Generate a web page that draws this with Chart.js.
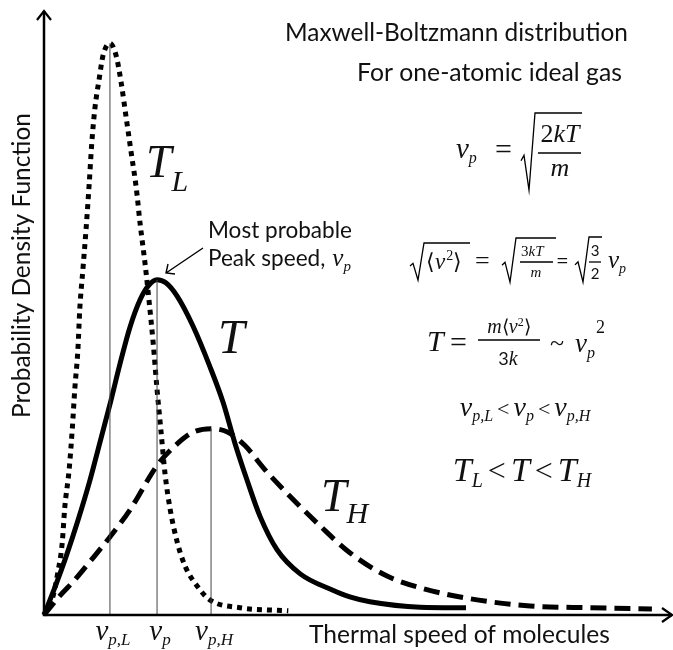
<!DOCTYPE html>
<html><head><meta charset="utf-8">
<script src="https://cdn.jsdelivr.net/npm/chart.js@4.4.1/dist/chart.umd.min.js"></script>
<style>html,body{margin:0;padding:0;background:#fff}#wrap{width:673px;height:650px}</style>
</head><body><div id="wrap"><canvas id="c" width="673" height="650"></canvas></div>
<script>
// ---- data (arbitrary units) ----
const speedLow    = [0,1.3,2.2,2.9,3.3,4.0,4.5,4.9,5.4,5.7,6.2,6.7,7.2,7.6,8.1,8.8,9.4,10.5,11.5,12.3,13.1,13.9,14.7,15.3,16.1,16.7,17.4,18.0,18.6,19.3,20.1,21.2,22.5,24.6,26.4,31.2,38.9];
const densityLow  = [0,2.6,7.0,11.9,17.7,24.0,30.7,37.3,43.9,50.6,57.2,63.8,71.3,77.9,83.7,88.7,92.5,94.5,92.4,87.9,82.1,76.3,70.5,64.7,58.0,52.2,44.8,37.3,30.7,23.1,17.4,12.1,8.0,4.5,2.5,1.2,0.7];
const speedMid    = [0,1.75,3.5,5.4,7.3,8.9,10.5,12.1,13.7,15.3,16.6,18.0,19.4,21.2,23.7,26.4,28.5,30.4,32.3,34.4,37.1,40.8,46.0,48.7,51.9,59.9,67.2];
const densityMid  = [0,4.6,9.6,15.6,22.2,28.5,34.8,41.5,47.6,52.1,54.4,55.4,54.9,52.7,47.8,41.1,35.2,28.4,22.4,16.3,10.8,6.8,4.1,3.0,2.2,1.3,1.2];
const speedHigh   = [0,2.55,4.9,7.3,10.5,13.7,18.0,20.9,23.7,26.6,29.3,32.0,35.2,39.2,43.9,48.7,54.3,59.9,67.8,77.4,86.9,96.8];
const densityHigh = [0,3.2,5.8,8.8,12.9,17.4,24.7,28.0,30.2,30.8,30.2,28.0,24.0,19.6,14.8,10.3,6.6,4.5,2.7,1.5,1.2,1.0];
const peakSpeeds    = [10.5, 18.0, 26.6];
const peakDensities = [94.5, 55.4, 30.8];
const tickMain = ['v', 'v', 'v'];
const tickSubs = ['p,L', 'p', 'p,H'];
const xTitle = 'Thermal speed of molecules';
const yTitle = 'Probability Density Function';

const pts = (xs, ys) => xs.map((x, i) => ({x, y: ys[i]}));

const SANS = s => `${s}px Lato, "Open Sans", sans-serif`;
const MI = s => `italic ${s}px "Liberation Serif", serif`;
const MR = s => `${s}px "Liberation Serif", serif`;

function seqWidth(ctx, items) {
  let w = 0;
  for (const it of items) { ctx.font = it.f; w += ctx.measureText(it.t).width + (it.g || 0); }
  return w;
}
function seqDraw(ctx, x, y, items) {
  for (const it of items) {
    ctx.font = it.f;
    ctx.fillText(it.t, x, y + (it.dy || 0));
    x += ctx.measureText(it.t).width + (it.g || 0);
  }
  return x;
}
function seqCenter(ctx, cx, y, items) { seqDraw(ctx, cx - seqWidth(ctx, items) / 2, y, items); }
function fitText(ctx, txt, left, right, base, size, fam) {
  ctx.font = fam(size);
  const w = ctx.measureText(txt).width;
  const s = size * (right - left) / w;
  ctx.font = fam(s);
  ctx.fillText(txt, left, base);
  return s;
}
function radical(ctx, x, yTop, yBot, endX) {
  ctx.beginPath();
  const h = yBot - yTop;
  ctx.moveTo(x, yTop + h * 0.62);
  ctx.lineTo(x + 3, yTop + h * 0.55);
  ctx.lineTo(x + 8, yBot);
  ctx.lineTo(x + 14, yTop);
  ctx.lineTo(endX, yTop);
  ctx.stroke();
}

const annot = {
  id: 'annot',
  afterDatasetsDraw(chart) {
    const ctx = chart.ctx, a = chart.chartArea;
    const xs = chart.scales.x;
    ctx.save();
    ctx.fillStyle = '#111'; ctx.strokeStyle = '#000';
    ctx.textBaseline = 'alphabetic'; ctx.textAlign = 'left';
    // axes with arrows
    ctx.lineWidth = 2.5;
    ctx.beginPath();
    ctx.moveTo(a.left, a.top + 1); ctx.lineTo(a.left, a.bottom); ctx.lineTo(a.right, a.bottom);
    ctx.stroke();
    ctx.lineWidth = 2.2;
    ctx.beginPath();
    ctx.moveTo(a.left - 7, a.top + 10); ctx.lineTo(a.left, a.top + 1); ctx.lineTo(a.left + 7, a.top + 10);
    ctx.moveTo(a.right - 10, a.bottom - 7); ctx.lineTo(a.right, a.bottom); ctx.lineTo(a.right - 10, a.bottom + 7);
    ctx.stroke();

    // tick labels
    for (let i = 0; i < peakSpeeds.length; i++) {
      const px = xs.getPixelForValue(peakSpeeds[i]);
      seqCenter(ctx, px + 3, 640, [{t: tickMain[i], f: MI(29)}, {t: tickSubs[i], f: MI(17), dy: 5}]);
    }
    // axis titles
    fitText(ctx, xTitle, 309, 610, 643, 22, SANS);
    ctx.save();
    ctx.translate(30, 418); ctx.rotate(-Math.PI / 2);
    fitText(ctx, yTitle, 0, 305, 0, 22, SANS);
    ctx.restore();

    // titles
    fitText(ctx, 'Maxwell-Boltzmann distribution', 285, 628, 41, 21, SANS);
    fitText(ctx, 'For one-atomic ideal gas', 357, 622, 81, 21, SANS);
    const fs = fitText(ctx, 'Most probable', 208, 352, 238, 17, SANS);
    ctx.font = SANS(fs);
    ctx.fillText('Peak speed,', 208, 266);
    const pw = ctx.measureText('Peak speed,').width;
    seqDraw(ctx, 208 + pw + 7, 266, [{t: 'v', f: MI(25)}, {t: 'p', f: MI(15), dy: 5}]);
    // arrow
    ctx.lineWidth = 1.4;
    ctx.beginPath();
    ctx.moveTo(203, 248); ctx.lineTo(166, 273);
    ctx.moveTo(168, 264); ctx.lineTo(166, 273); ctx.lineTo(175, 274);
    ctx.stroke();

    // curve labels
    seqDraw(ctx, 146, 177, [{t: 'T', f: MI(46)}, {t: 'L', f: MI(30), dy: 14}]);
    seqDraw(ctx, 218, 353, [{t: 'T', f: MI(48)}]);
    seqDraw(ctx, 321, 511, [{t: 'T', f: MI(46)}, {t: 'H', f: MI(30), dy: 12}]);

    // formula 1
    ctx.lineWidth = 1.3;
    seqDraw(ctx, 456, 158, [{t: 'v', f: MI(29)}, {t: 'p', f: MI(16), dy: 5}]);
    ctx.font = MR(30); ctx.fillText('=', 495, 159);
    radical(ctx, 521, 113, 190, 582);
    seqCenter(ctx, 560, 142, [{t: '2', f: MR(26)}, {t: 'kT', f: MI(26)}]);
    ctx.beginPath(); ctx.moveTo(538, 153); ctx.lineTo(581, 153); ctx.stroke();
    seqCenter(ctx, 560, 176, [{t: 'm', f: MI(26)}]);

    // formula 2
    radical(ctx, 410, 243, 280, 470);
    seqDraw(ctx, 426, 269, [{t: '\u27E8', f: MR(22)}, {t: 'v', f: MI(23), g: 1}, {t: '2', f: MR(14), dy: -9}, {t: '\u27E9', f: MR(22)}]);
    ctx.font = MR(26); ctx.fillText('=', 475, 269);
    radical(ctx, 502, 238, 282, 556);
    seqDraw(ctx, 521, 256, [{t: '3', f: MR(15)}, {t: 'kT', f: MI(15)}]);
    ctx.beginPath(); ctx.moveTo(520, 262); ctx.lineTo(553, 262); ctx.stroke();
    seqCenter(ctx, 536, 277, [{t: 'm', f: MI(15)}]);
    ctx.font = SANS(22); ctx.fillText('=', 556, 268);
    radical(ctx, 575, 237, 282, 602);
    seqCenter(ctx, 595, 256, [{t: '3', f: SANS(15)}]);
    seqCenter(ctx, 595, 279, [{t: '2', f: SANS(15)}]);
    ctx.beginPath(); ctx.moveTo(589, 262); ctx.lineTo(601, 262); ctx.stroke();
    seqDraw(ctx, 608, 268, [{t: 'v', f: MI(25)}, {t: 'p', f: MI(14), dy: 5}]);

    // formula 3
    seqDraw(ctx, 427, 351, [{t: 'T', f: MI(30)}]);
    ctx.font = MR(30); ctx.fillText('=', 450, 352);
    seqCenter(ctx, 509, 333, [{t: 'm', f: MI(20)}, {t: '\u27E8', f: MR(19)}, {t: 'v', f: MI(20)}, {t: '2', f: MR(12), dy: -7}, {t: '\u27E9', f: MR(19)}]);
    ctx.beginPath(); ctx.moveTo(478, 340); ctx.lineTo(540, 340); ctx.stroke();
    seqCenter(ctx, 508, 365, [{t: '3', f: SANS(18)}, {t: 'k', f: MI(20)}]);
    ctx.font = MR(26); ctx.fillText('~', 550, 351);
    seqDraw(ctx, 575, 352, [{t: 'v', f: MI(27)}, {t: 'p', f: MI(16), dy: 6, g: 1}, {t: '2', f: MR(18), dy: -19}]);

    // formula 4
    seqCenter(ctx, 525, 416, [{t: 'v', f: MI(28)}, {t: 'p,L', f: MI(16), dy: 5, g: 4}, {t: '<', f: MR(22), g: 4},
                {t: 'v', f: MI(28)}, {t: 'p', f: MI(16), dy: 5, g: 4}, {t: '<', f: MR(22), g: 4},
                {t: 'v', f: MI(28)}, {t: 'p,H', f: MI(16), dy: 5}]);

    // formula 5
    seqCenter(ctx, 522, 481, [{t: 'T', f: MI(34)}, {t: 'L', f: MI(20), dy: 6, g: 5}, {t: '<', f: MR(32), g: 5},
                {t: 'T', f: MI(34), g: 5}, {t: '<', f: MR(32), g: 5},
                {t: 'T', f: MI(34)}, {t: 'H', f: MI(20), dy: 6}]);

    ctx.restore();
  }
};

const vlines = peakSpeeds.map((s, i) => ({
  data: [{x: s, y: 0}, {x: s, y: peakDensities[i]}],
  borderColor: '#444', borderWidth: 1, pointRadius: 0, clip: false
}));

new Chart(document.getElementById('c'), {
  type: 'line',
  data: {
    datasets: [
      ...vlines,
      {label: 'T_L', data: pts(speedLow, densityLow), borderColor: '#000', borderWidth: 5,
       borderDash: [5, 5], borderCapStyle: 'butt', pointRadius: 0, cubicInterpolationMode: 'monotone', clip: false},
      {label: 'T', data: pts(speedMid, densityMid), borderColor: '#000', borderWidth: 5,
       pointRadius: 0, cubicInterpolationMode: 'monotone', clip: false},
      {label: 'T_H', data: pts(speedHigh, densityHigh), borderColor: '#000', borderWidth: 5,
       borderDash: [16, 8], borderCapStyle: 'butt', pointRadius: 0, cubicInterpolationMode: 'monotone', clip: false}
    ]
  },
  options: {
    responsive: false, animation: false, devicePixelRatio: 1,
    layout: {padding: {left: 44, top: 10, right: 1, bottom: 35}},
    plugins: {legend: {display: false}, tooltip: {enabled: false}},
    scales: {
      x: {type: 'linear', min: 0, max: 100, display: false},
      y: {type: 'linear', min: 0, max: 100, display: false}
    }
  },
  plugins: [annot]
});
</script></body></html>
